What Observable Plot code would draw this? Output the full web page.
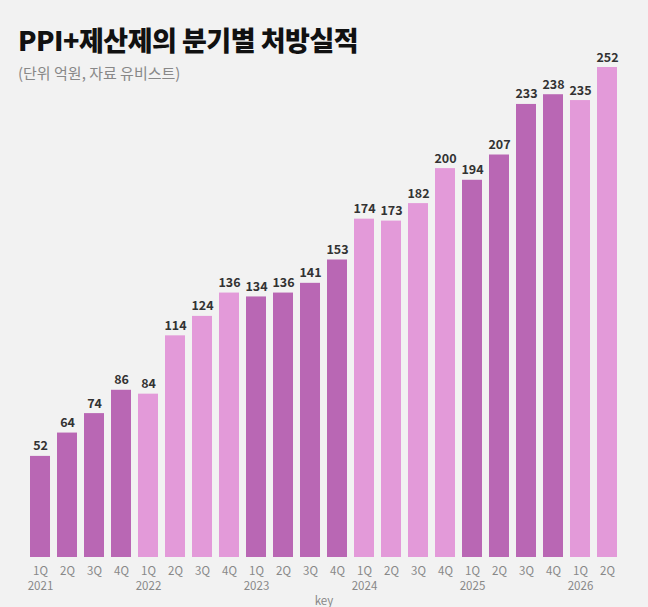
<!DOCTYPE html>
<html><head><meta charset="utf-8">
<script src="https://cdn.jsdelivr.net/npm/d3@7"></script>
<script src="https://cdn.jsdelivr.net/npm/@observablehq/plot@0.6"></script>
<style>
body{margin:0;background:#f2f2f2;font-family:"Noto Sans CJK KR","Noto Sans",sans-serif;}
#wrap{position:relative;width:648px;height:607px;}
#title{position:absolute;left:18px;top:20px;font-size:27px;font-weight:900;color:#111;letter-spacing:-0.5px;}
#sub{position:absolute;left:18px;top:62px;font-size:15px;color:#888;}
</style></head><body>
<div id="wrap"><div id="chart"></div>
<div id="title">PPI+제산제의 분기별 처방실적</div>
<div id="sub">(단위 억원, 자료 유비스트)</div></div>
<script>
const quarters=["1Q","2Q","3Q","4Q","1Q","2Q","3Q","4Q","1Q","2Q","3Q","4Q","1Q","2Q","3Q","4Q","1Q","2Q","3Q","4Q","1Q","2Q"];
const years=[2021,2021,2021,2021,2022,2022,2022,2022,2023,2023,2023,2023,2024,2024,2024,2024,2025,2025,2025,2025,2026,2026];
const values=[52,64,74,86,84,114,124,136,134,136,141,153,174,173,182,200,194,207,233,238,235,252];
const data=values.map((v,i)=>({key:i,q:quarters[i],year:years[i],v,label:quarters[i]+(quarters[i]==="1Q"?"\n"+years[i]:"")}));
const chart=Plot.plot({
  width:648,height:607,marginTop:67,marginBottom:50,marginLeft:19,marginRight:20,
  style:{background:"transparent",fontFamily:"Noto Sans CJK KR, Noto Sans, sans-serif"},
  x:{type:"band",domain:data.map(d=>d.key),padding:0.26,axis:null},
  y:{domain:[0,252],axis:null},
  marks:[
    Plot.barY(data,{x:"key",y:"v",fill:d=>d.year%2?"#b967b4":"#e39ad9"}),
    Plot.text(data,{x:"key",y:"v",text:d=>String(d.v),dy:-10,fontSize:12.5,fontWeight:"bold",fill:"#333"}),
    Plot.axisX({domain:data.map(d=>d.key),tickSize:0,tickPadding:6,tickFormat:k=>data[k].label,fontSize:11.5,fill:"#888",lineHeight:1.35,textAnchor:"middle"})
  ]
});
document.getElementById("chart").appendChild(chart);
</script></body></html>
